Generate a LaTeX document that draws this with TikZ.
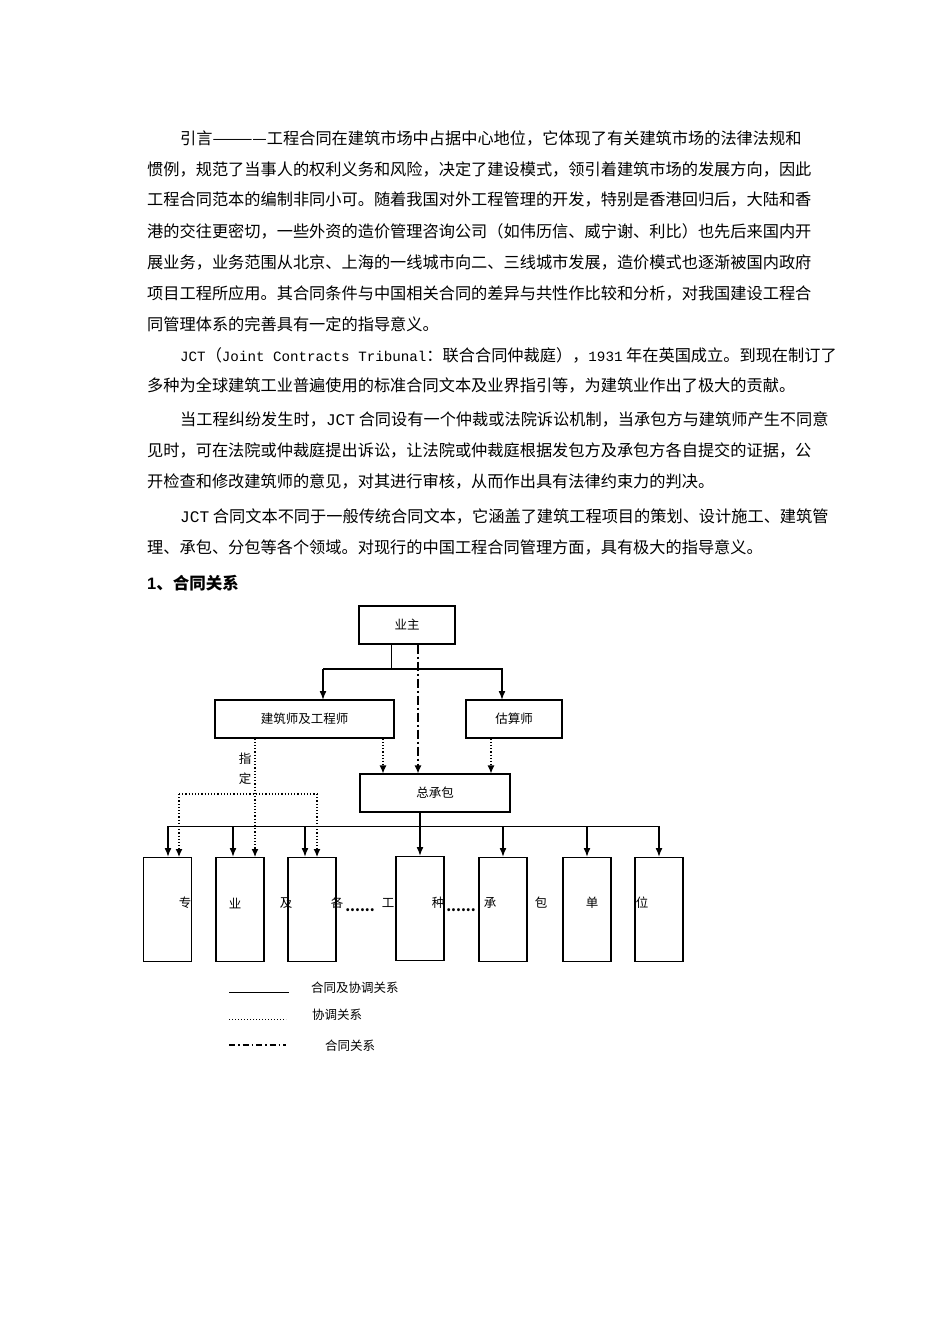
\documentclass[tikz,border=0pt]{standalone}
\usepackage{fontspec}
\setmainfont{Noto Sans CJK SC}
\newfontfamily\monof{Liberation Mono}
\newfontfamily\headf{Liberation Sans}
\usetikzlibrary{arrows.meta}
\begin{document}
\begin{tikzpicture}[x=1pt,y=-1pt,
  line/.style={anchor=west,inner sep=0pt,font=\fontsize{16.2}{18}\selectfont},
  box/.style={draw,line width=1.1pt,inner sep=0pt,font=\fontsize{12.5}{14}\selectfont},
  lab/.style={inner sep=0pt,font=\fontsize{12.5}{14}\selectfont},
  arr/.style={line width=1.6pt,-{Latex[length=9pt,width=7pt]}},
  darr/.style={line width=1.2pt,dotted,-{Latex[length=8pt,width=7pt]}},
  thin/.style={line width=1pt}]
\useasboundingbox (0,0) rectangle (950,1344);
\fill[white] (0,0) rectangle (950,1344);
% text
\node[line] (t1) at (180,138) {引言————工程合同在建筑市场中占据中心地位，它体现了有关建筑市场的法律法规和};
\node[line] (t2) at (147,169) {惯例，规范了当事人的权利义务和风险，决定了建设模式，领引着建筑市场的发展方向，因此};
\node[line] (t3) at (147,200) {工程合同范本的编制非同小可。随着我国对外工程管理的开发，特别是香港回归后，大陆和香};
\node[line] (t4) at (147,231) {港的交往更密切，一些外资的造价管理咨询公司（如伟历信、威宁谢、利比）也先后来国内开};
\node[line] (t5) at (147,262) {展业务，业务范围从北京、上海的一线城市向二、三线城市发展，造价模式也逐渐被国内政府};
\node[line] (t6) at (147,293) {项目工程所应用。其合同条件与中国相关合同的差异与共性作比较和分析，对我国建设工程合};
\node[line] (t7) at (147,324) {同管理体系的完善具有一定的指导意义。};
\node[line] (t8) at (180,355) {{\monof\fontsize{14.2}{18}\selectfont JCT}（{\monof\fontsize{14.2}{18}\selectfont Joint Contracts Tribunal}：联合合同仲裁庭），{\monof\fontsize{14.2}{18}\selectfont 1931} 年在英国成立。到现在制订了};
\node[line] (t9) at (147,385) {多种为全球建筑工业普遍使用的标准合同文本及业界指引等，为建筑业作出了极大的贡献。};
\node[line] (t10) at (180,419) {当工程纠纷发生时，{\monof JCT} 合同设有一个仲裁或法院诉讼机制，当承包方与建筑师产生不同意};
\node[line] (t11) at (147,450) {见时，可在法院或仲裁庭提出诉讼，让法院或仲裁庭根据发包方及承包方各自提交的证据，公};
\node[line] (t12) at (147,481) {开检查和修改建筑师的意见，对其进行审核，从而作出具有法律约束力的判决。};
\node[line] (t13) at (180,516) {{\monof JCT} 合同文本不同于一般传统合同文本，它涵盖了建筑工程项目的策划、设计施工、建筑管};
\node[line] (t14) at (147,547) {理、承包、分包等各个领域。对现行的中国工程合同管理方面，具有极大的指导意义。};
\node[line,font=\fontsize{16.5}{18}\bfseries\selectfont] (h) at (147,583) {{\headf 1}、合同关系};
% boxes
\node[box,minimum width=96pt,minimum height=38pt] (yz) at (407,625) {业主};
\node[box,minimum width=179pt,minimum height=38pt] (js) at (304.5,719) {建筑师及工程师};
\node[box,minimum width=96pt,minimum height=38pt] (gs) at (514,719) {估算师};
\node[box,minimum width=150pt,minimum height=38pt] (zc) at (435,793) {总承包};
\foreach \n/\x/\t in {b1/167.5/857,b2/240/857,b3/312/857,b4/420/856,b5/503/857,b6/587/857,b7/659/857}
  \node[box,minimum width=48pt,minimum height=104pt,anchor=north] (\n) at (\x,\t) {};
% owner connectors
\coordinate (o1) at (391,669);
\draw[thin] (yz.south -| o1) -- (o1);
\draw[arr] (323,669) -- (o1) -- (502,669) -- (502,700);
\draw[arr] (323,669) -- (323,700);
\draw[line width=1.3pt,dash pattern=on 9pt off 3pt on 2pt off 3pt,-{Latex[length=8pt,width=7pt]}] (yz.south -| 418,0) -- (zc.north -| 418,0);
\draw[darr] (js.south -| 383,0) -- (zc.north -| 383,0);
\draw[darr] (gs.south -| 491,0) -- (zc.north -| 491,0);
% 指定
\draw[darr] (js.south -| 255,0) -- (b2.north -| 255,0);
\draw[darr] (179,794) -- (179,857);
\draw[darr,-] (179,794) -- (317,794);
\draw[darr] (317,794) -- (317,857);
\node[lab] (zd1) at (245,759) {指};
\node[lab] (zd2) at (245,779) {定};
% bus
\draw[thin] (168,826) -- (659,826);
\draw[arr] (zc.south -| 420,0) -- (b4.north -| 420,0);
\foreach \n/\x in {b1/168,b2/233,b3/305,b5/503,b6/587,b7/659}
  \draw[arr] (\x,826) -- (\n.north -| \x,0);
% bottom text
\foreach \x/\t in {185/专,235/业,286/及,337/各,388/工,438/种,490/承,541/包,592/单,642/位}
  \node[lab] at (\x,903) {\t};
\node[lab,font=\fontsize{14}{14}\bfseries\selectfont] (d1) at (360,910) {......};
\node[lab,font=\fontsize{14}{14}\bfseries\selectfont] (d2) at (461,910) {......};
% legend
\coordinate (l1) at (229,992); \coordinate (l2) at (229,1019); \coordinate (l3) at (229,1045);
\draw[line width=1pt] (l1) -- ++(60,0);
\draw[line width=1pt,dotted] (l2) -- ++(57,0);
\draw[line width=1.1pt,dash pattern=on 6pt off 3pt on 1.5pt off 3pt] (l3) -- ++(57,0);
\node[lab,anchor=west] (g1) at (311,988) {合同及协调关系};
\node[lab,anchor=west] (g2) at (312,1015) {协调关系};
\node[lab,anchor=west] (g3) at (325,1046) {合同关系};
\end{tikzpicture}
\end{document}
